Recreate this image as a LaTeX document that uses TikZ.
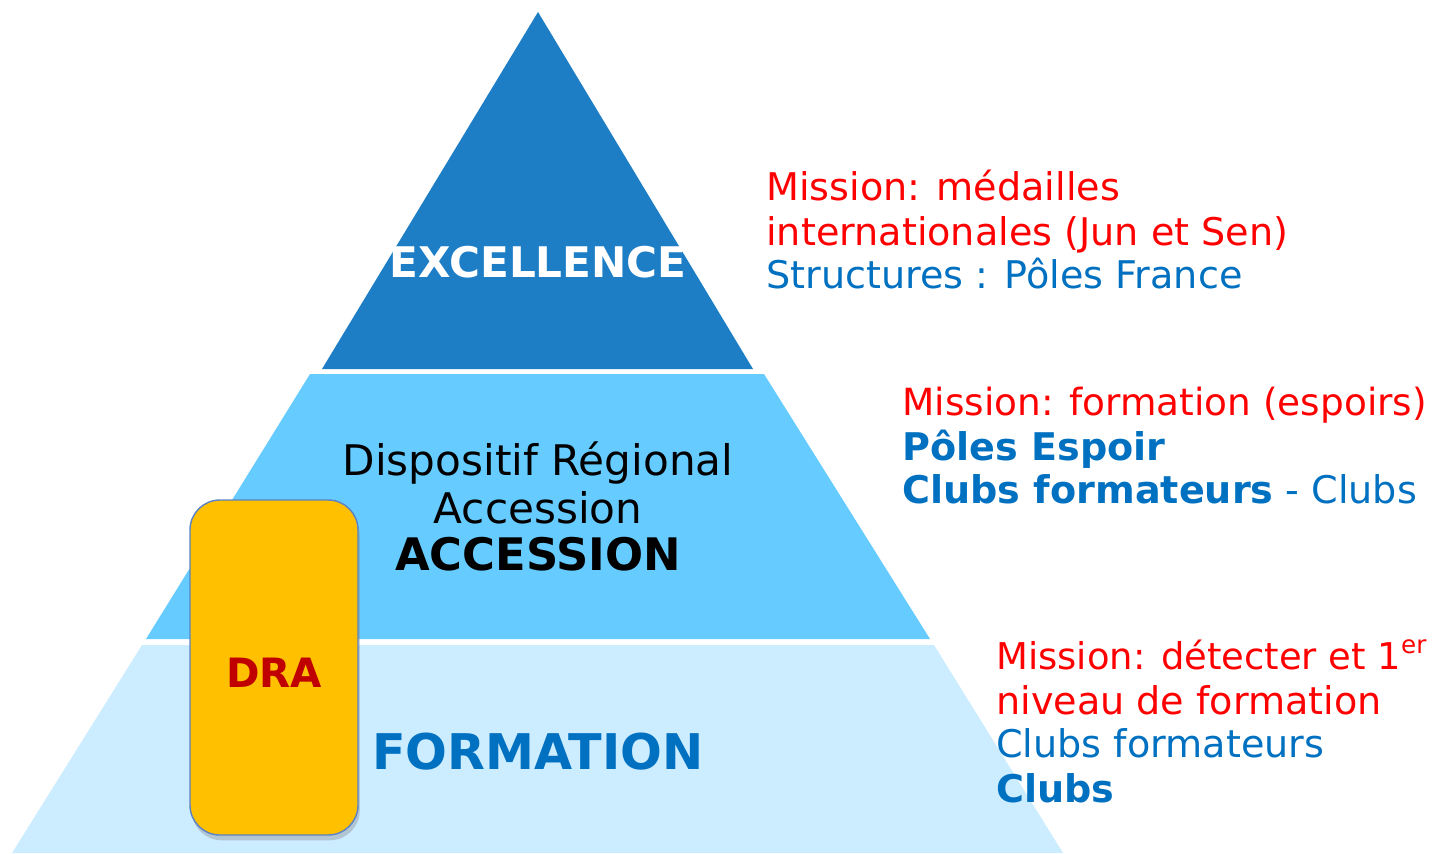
\documentclass[tikz,border=0pt]{standalone}
\usepackage{fontspec}
\setmainfont{DejaVu Sans}
\usetikzlibrary{shadows}
\definecolor{topblue}{HTML}{1D7EC6}
\definecolor{midblue}{HTML}{66CCFF}
\definecolor{lowblue}{HTML}{CCECFF}
\definecolor{textblue}{HTML}{0070C0}
\definecolor{missionred}{HTML}{FF0000}
\definecolor{draorange}{HTML}{FFC000}
\definecolor{drared}{HTML}{C00000}
\definecolor{draedge}{HTML}{5B82C4}
\newcommand{\upper}[1]{\raisebox{0.75ex}{\fontsize{14}{14}\selectfont #1}}
\tikzset{
  tierlabel/.style={anchor=base, inner sep=0pt, font=\fontsize{24}{28}\selectfont},
  sidetext/.style={anchor=base west, inner sep=0pt, font=\fontsize{21.7}{26}\selectfont},
  drabox/.style={draw=draedge, line width=0.8pt, fill=draorange, rounded corners=17pt,
    drop shadow={shadow xshift=1pt, shadow yshift=-3pt, opacity=0.35}}
}
\begin{document}
\begin{tikzpicture}[x=0.02cm, y=-0.02cm]
		\useasboundingbox (0,0) rectangle (1435,853);
		%pyramid levels
		\fill[topblue] (538,12) -- (753,369) -- (322,369) -- cycle;
		\fill[midblue] (310,374) -- (764,374) -- (930,639) -- (146,639) -- cycle;
		\fill[lowblue] (142,645) -- (934,645) -- (1063,853) -- (12,853) -- cycle;
		%labels inside the levels
		\node[tierlabel, font=\fontsize{24}{28}\selectfont\bfseries, text=white] (excellence) at (538,277) {EXCELLENCE};
		\node[tierlabel] (dispositif) at (538,475) {Dispositif Régional};
		\node[tierlabel] (accession) at (538,523) {Accession};
		\node[tierlabel, font=\fontsize{25.5}{30}\selectfont\bfseries] (accessionbold) at (538,570) {ACCESSION};
		\node[tierlabel, font=\fontsize{28}{32}\selectfont\bfseries, text=textblue] (formation) at (538,769) {FORMATION};
		%DRA box
		\path[drabox] (190,500) rectangle (358,835);
		\node[tierlabel, font=\fontsize{23}{27}\selectfont\bfseries, text=drared] (dra) at (274,687) {DRA};
		%missions, top level
		\node[sidetext, text=missionred] (missiontop) at (766,200) {Mission: médailles};
		\node[sidetext, text=missionred] (missiontopb) at (766,245) {internationales (Jun et Sen)};
		\node[sidetext, text=textblue] (structtop) at (766,288) {Structures : Pôles France};
		%missions, middle level
		\node[sidetext, text=missionred, font=\fontsize{21.3}{26}\selectfont] (missionmid) at (902,415) {Mission: formation (espoirs)};
		\node[sidetext, text=textblue, font=\fontsize{21.7}{26}\selectfont\bfseries] (polesmid) at (902,460) {Pôles Espoir};
		\node[sidetext, text=textblue] (clubsmid) at (902,503) {\textbf{Clubs formateurs} - Clubs};
		%missions, low level
		\node[sidetext, text=missionred, font=\fontsize{21}{26}\selectfont] (missionlow) at (996,669) {Mission: détecter et 1\upper{er}};
		\node[sidetext, text=missionred] (missionlowb) at (996,714) {niveau de formation};
		\node[sidetext, text=textblue] (clubslow) at (996,757) {Clubs formateurs};
		\node[sidetext, text=textblue, font=\fontsize{21.7}{26}\selectfont\bfseries] (clubslowb) at (996,802) {Clubs};
	\end{tikzpicture}
\end{document}
